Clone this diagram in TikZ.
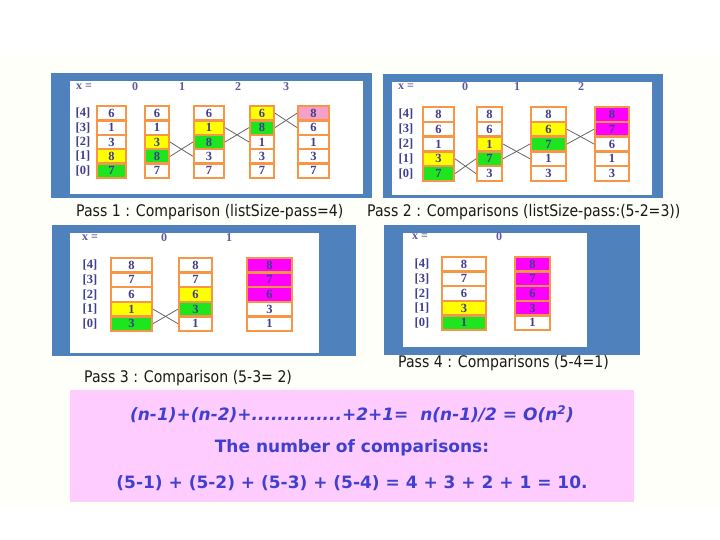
\documentclass[tikz,border=0pt]{standalone}
\usepackage{fontspec}
\setmainfont{Liberation Serif}
\newfontfamily\capfont[FakeStretch=0.88]{DejaVu Sans}
\newfontfamily\sumfont{DejaVu Sans}
\usepackage{tikz}
\usetikzlibrary{positioning}
\usepackage{xcolor}

\definecolor{panelblue}{RGB}{79,129,189}
\definecolor{cellorange}{RGB}{247,150,70}
\definecolor{numblue}{RGB}{62,62,140}
\definecolor{cyellow}{RGB}{255,255,0}
\definecolor{cgreen}{RGB}{30,230,30}
\definecolor{cmag}{RGB}{255,0,255}
\definecolor{cpink}{RGB}{245,160,200}
\definecolor{pinkbg}{RGB}{255,204,255}
\definecolor{sumblue}{RGB}{64,64,208}
\definecolor{cream}{RGB}{255,255,249}

\begin{document}
\begin{tikzpicture}[
            x=1pt, y=-1pt,
            cell/.style={draw=cellorange,line width=2.4pt,minimum height=14.4pt,inner sep=0pt,
                         font=\fontsize{12.5}{13}\selectfont\bfseries,text=numblue},
            idx/.style={font=\fontsize{12.5}{13}\selectfont\bfseries,text=numblue,inner sep=0pt},
            hdr/.style={font=\fontsize{12}{13}\selectfont\bfseries,text=numblue!85,inner sep=0pt},
            swap/.style={draw=black!60,line width=0.8pt},
            caption/.style={font=\capfont\fontsize{16}{18}\selectfont,text=black!90,anchor=west,inner sep=0pt},
            sumtext/.style={font=\sumfont\fontsize{17}{19}\selectfont\bfseries,text=sumblue,inner sep=0pt}
        ]
            \useasboundingbox (0,0) rectangle (720,540);
            \fill[cream] (0,55) rectangle (720,506);

            % pass 1
            \fill[panelblue] (51,73) rectangle (372,198);
            \fill[white] (70,81) rectangle (363,194);
            \node[hdr,anchor=west] (p1x) at (76,87) {x =};
            \node[hdr] (p1x0) at (135,87) {0};
            \node[hdr] (p1x1) at (182,87) {1};
            \node[hdr] (p1x2) at (238,87) {2};
            \node[hdr] (p1x3) at (286,87) {3};
            \foreach \k in {0,...,4}
                \node[idx] (p1i\k) at (83,{170.8-14.4*\k}) {[\k]};
            \foreach \v/\c [count=\k from 0] in {7/cgreen,8/cyellow,3/white,1/white,6/white}
                \node[cell,fill=\c,minimum width=28.6pt] (p1a\k) at (111.5,{170.8-14.4*\k}) {\v};
            \foreach \v/\c [count=\k from 0] in {7/white,8/cgreen,3/cyellow,1/white,6/white}
                \node[cell,fill=\c,minimum width=23.6pt] (p1b\k) at (157,{170.8-14.4*\k}) {\v};
            \foreach \v/\c [count=\k from 0] in {7/white,3/white,8/cgreen,1/cyellow,6/white}
                \node[cell,fill=\c,minimum width=29.6pt] (p1c\k) at (209,{170.8-14.4*\k}) {\v};
            \foreach \v/\c [count=\k from 0] in {7/white,3/white,1/white,8/cgreen,6/cyellow}
                \node[cell,fill=\c,minimum width=23.6pt] (p1d\k) at (262,{170.8-14.4*\k}) {\v};
            \foreach \v/\c [count=\k from 0] in {7/white,3/white,1/white,6/white,8/cpink}
                \node[cell,fill=\c,minimum width=30.6pt] (p1e\k) at (313.5,{170.8-14.4*\k}) {\v};
            \draw[swap] (p1b2.east) -- (p1c1.west);
            \draw[swap] (p1b1.east) -- (p1c2.west);
            \draw[swap] (p1c3.east) -- (p1d2.west);
            \draw[swap] (p1c2.east) -- (p1d3.west);
            \draw[swap] (p1d4.east) -- (p1e3.west);
            \draw[swap] (p1d3.east) -- (p1e4.west);
            \node[caption] (cap1) at (76,212) {Pass 1 : Comparison (listSize-pass=4)};

            % pass 2
            \fill[panelblue] (383,74) rectangle (663,198);
            \fill[white] (392,82) rectangle (652,195);
            \node[hdr,anchor=west] (p2x) at (398,87) {x =};
            \node[hdr] (p2x0) at (465,87) {0};
            \node[hdr] (p2x1) at (517,87) {1};
            \node[hdr] (p2x2) at (581,87) {2};
            \foreach \k in {0,...,4}
                \node[idx] (p2i\k) at (406,{173.6-14.8*\k}) {[\k]};
            \foreach \v/\c [count=\k from 0] in {7/cgreen,3/cyellow,1/white,6/white,8/white}
                \node[cell,fill=\c,minimum width=30.6pt,minimum height=14.8pt] (p2a\k) at (438.5,{173.6-14.8*\k}) {\v};
            \foreach \v/\c [count=\k from 0] in {3/white,7/cgreen,1/cyellow,6/white,8/white}
                \node[cell,fill=\c,minimum width=24.6pt,minimum height=14.8pt] (p2b\k) at (489.5,{173.6-14.8*\k}) {\v};
            \foreach \v/\c [count=\k from 0] in {3/white,1/white,7/cgreen,6/cyellow,8/white}
                \node[cell,fill=\c,minimum width=34.6pt,minimum height=14.8pt] (p2c\k) at (548.5,{173.6-14.8*\k}) {\v};
            \foreach \v/\c [count=\k from 0] in {3/white,1/white,6/white,7/cmag,8/cmag}
                \node[cell,fill=\c,minimum width=33.6pt,minimum height=14.8pt] (p2d\k) at (612,{173.6-14.8*\k}) {\v};
            \draw[swap] (p2a1.east) -- (p2b0.west);
            \draw[swap] (p2a0.east) -- (p2b1.west);
            \draw[swap] (p2b2.east) -- (p2c1.west);
            \draw[swap] (p2b1.east) -- (p2c2.west);
            \draw[swap] (p2c3.east) -- (p2d2.west);
            \draw[swap] (p2c2.east) -- (p2d3.west);
            \node[caption] (cap2) at (367,212) {Pass 2 : Comparisons (listSize-pass:(5-2=3))};

            % pass 3
            \fill[panelblue] (52,225) rectangle (356,356);
            \fill[white] (70,233) rectangle (319,353);
            \node[hdr,anchor=west] (p3x) at (82,238) {x =};
            \node[hdr] (p3x0) at (164,238) {0};
            \node[hdr] (p3x1) at (229,238) {1};
            \foreach \k in {0,...,4}
                \node[idx] (p3i\k) at (90,{323.7-14.6*\k}) {[\k]};
            \foreach \v/\c [count=\k from 0] in {3/cgreen,1/cyellow,6/white,7/white,8/white}
                \node[cell,fill=\c,minimum width=40.6pt,minimum height=14.6pt] (p3a\k) at (131.5,{323.7-14.6*\k}) {\v};
            \foreach \v/\c [count=\k from 0] in {1/white,3/cgreen,6/cyellow,7/white,8/white}
                \node[cell,fill=\c,minimum width=32.6pt,minimum height=14.6pt] (p3b\k) at (195.5,{323.7-14.6*\k}) {\v};
            \foreach \v/\c [count=\k from 0] in {1/white,3/white,6/cmag,7/cmag,8/cmag}
                \node[cell,fill=\c,minimum width=44.6pt,minimum height=14.6pt] (p3c\k) at (269.5,{323.7-14.6*\k}) {\v};
            \draw[swap] (p3a1.east) -- (p3b0.west);
            \draw[swap] (p3a0.east) -- (p3b1.west);
            \node[caption] (cap3) at (84,378) {Pass 3 : Comparison (5-3= 2)};

            % pass 4
            \fill[panelblue] (384,225) rectangle (640,355);
            \fill[white] (403,233) rectangle (587,347);
            \node[hdr,anchor=west] (p4x) at (412,237) {x =};
            \node[hdr] (p4x0) at (499,237) {0};
            \foreach \k in {0,...,4}
                \node[idx] (p4i\k) at (422,{322.7-14.6*\k}) {[\k]};
            \foreach \v/\c [count=\k from 0] in {1/cgreen,3/cyellow,6/white,7/white,8/white}
                \node[cell,fill=\c,minimum width=43.6pt,minimum height=14.6pt] (p4a\k) at (464,{322.7-14.6*\k}) {\v};
            \foreach \v/\c [count=\k from 0] in {1/white,3/cmag,6/cmag,7/cmag,8/cmag}
                \node[cell,fill=\c,minimum width=34.6pt,minimum height=14.6pt] (p4b\k) at (532.5,{322.7-14.6*\k}) {\v};
            \node[caption] (cap4) at (398,363) {Pass 4 : Comparisons (5-4=1)};

            % summary
            \fill[pinkbg] (70,390) rectangle (634,502);
            \node[sumtext] (sum1) at (352,414) {\itshape (n-1)+(n-2)+..............+2+1=~~n(n-1)/2 = O(n\textsuperscript{2})};
            \node[sumtext] (sum2) at (352,448) {The number of comparisons:};
            \node[sumtext] (sum3) at (352,483) {(5-1) + (5-2) + (5-3) + (5-4) = 4 + 3 + 2 + 1 = 10.};
        \end{tikzpicture}
\end{document}
